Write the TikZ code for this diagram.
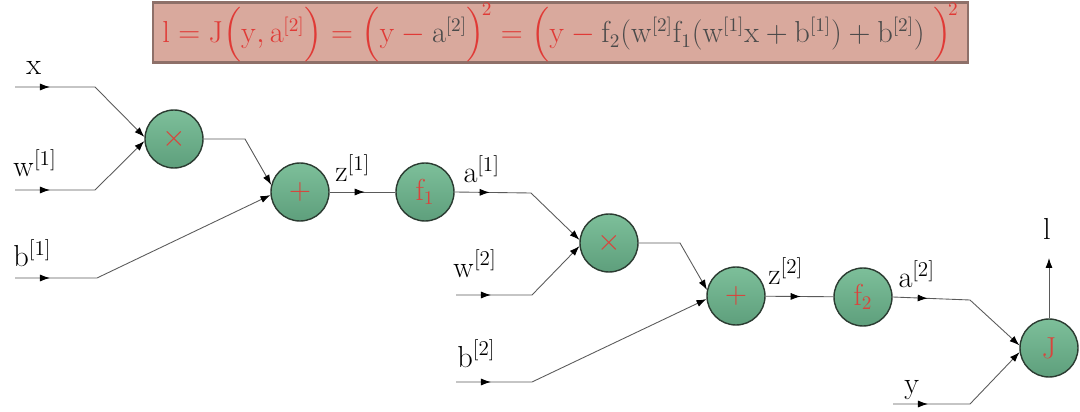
\documentclass[tikz,border=0pt]{standalone}
\usepackage{amsmath}
\usetikzlibrary{arrows.meta,decorations.markings}
\definecolor{eqred}{HTML}{E03A36}
\definecolor{eqgray}{HTML}{4A4A4A}
\definecolor{boxfill}{HTML}{D9A99D}
\definecolor{boxedge}{HTML}{8E7069}
\definecolor{ngreenl}{HTML}{7DBF9A}
\definecolor{ngreend}{HTML}{5E9F7C}
\definecolor{nedge}{HTML}{2B3B31}
\definecolor{opred}{HTML}{D9443C}
\definecolor{wirec}{HTML}{5A5A5A}
\tikzset{
  opnode/.style={circle, minimum size=1.16cm, inner sep=0pt, draw=nedge, line width=0.8pt,
    top color=ngreenl, bottom color=ngreend, text=opred, font=\fontsize{16}{19}\selectfont},
  wire/.style={draw=wirec, line width=0.5pt},
  tip/.style={-{Latex[length=2mm,width=1.4mm,color=black]}},
  midtip/.style={postaction={decorate}, decoration={markings,
    mark=at position 0.7cm with {\arrow{Latex[length=2mm,width=1.4mm,color=black]}}}},
  lab/.style={anchor=base west, inner sep=0pt, font=\fontsize{17}{20}\selectfont},
  eqbox/.style={draw=boxedge, line width=1.5pt, fill=boxfill, minimum width=16.3cm,
    minimum height=1.14cm, inner sep=0pt},
}
\begin{document}
\begin{tikzpicture}[x=0.02cm,y=-0.02cm]
\useasboundingbox (0,0) rectangle (1080,412);
\node[eqbox] (eq) at (560.5,32.5) {\fontsize{16.3}{18}\selectfont$\color{eqred}\mathrm{l}=\mathrm{J}\Bigl(\mathrm{y},\mathrm{a}^{[2]}\Bigr)=\Bigl(\mathrm{y}-{\color{eqgray}\mathrm{a}^{[2]}}\Bigr)^{\!2}=\Bigl(\mathrm{y}-{\color{eqgray}\mathrm{f}_2(\mathrm{w}^{[2]}\mathrm{f}_1(\mathrm{w}^{[1]}\mathrm{x}+\mathrm{b}^{[1]})+\mathrm{b}^{[2]})}\;\Bigr)^{\!2}$};

\node[opnode] (m1) at (174,139) {$\times$};
\node[opnode] (p1) at (300,192) {$+$};
\node[opnode] (f1) at (425,192) {$\mathrm{f}_1$};
\node[opnode] (m2) at (609,243) {$\times$};
\node[opnode] (p2) at (736,296) {$+$};
\node[opnode] (f2) at (863,297) {$\mathrm{f}_2$};
\node[opnode] (J) at (1049,348) {$\mathrm{J}$};

\coordinate (xs) at (15,87);   \coordinate (xb) at (95,87);
\coordinate (w1s) at (15,190); \coordinate (w1b) at (95,190);
\coordinate (b1s) at (15,278); \coordinate (b1b) at (97,278);
\coordinate (m1b) at (245,139);
\coordinate (a1b) at (531,193);
\coordinate (w2s) at (456,295); \coordinate (w2b) at (532,295);
\coordinate (b2s) at (456,382); \coordinate (b2b) at (532,382);
\coordinate (m2b) at (680,243);
\coordinate (a2b) at (970,300);
\coordinate (ys) at (893,404); \coordinate (yb) at (970,404);
\coordinate (lt) at (1049,258);

\draw[wire,midtip,tip] (xs) -- (xb) -- (m1.176);
\draw[wire,midtip,tip] (w1s) -- (w1b) -- (m1.184);
\draw[wire,tip] (m1.east) -- (m1b) -- (p1.166);
\draw[wire,midtip,tip] (b1s) -- (b1b) -- (p1.186);
\draw[wire,midtip] (p1) -- (f1);
\draw[wire,midtip,tip] (f1.east) -- (a1b) -- (m2.174);
\draw[wire,midtip,tip] (w2s) -- (w2b) -- (m2.186);
\draw[wire,tip] (m2.east) -- (m2b) -- (p2.168);
\draw[wire,midtip,tip] (b2s) -- (b2b) -- (p2.186);
\draw[wire,midtip] (p2) -- (f2);
\draw[wire,midtip,tip] (f2.east) -- (a2b) -- (J.175);
\draw[wire,midtip,tip] (ys) -- (yb) -- (J.188);
\draw[wire,tip] (J) -- (lt);

\node[lab] (lx) at (26,75) {$\mathrm{x}$};
\node[lab] (lw1) at (13,177) {$\mathrm{w}^{[1]}$};
\node[lab] (lb1) at (13,267) {$\mathrm{b}^{[1]}$};
\node[lab] (lz1) at (335,182) {$\mathrm{z}^{[1]}$};
\node[lab] (la1) at (463,183) {$\mathrm{a}^{[1]}$};
\node[lab] (lw2) at (453,277) {$\mathrm{w}^{[2]}$};
\node[lab] (lb2) at (457,367) {$\mathrm{b}^{[2]}$};
\node[lab] (lz2) at (768,285) {$\mathrm{z}^{[2]}$};
\node[lab] (la2) at (898,288) {$\mathrm{a}^{[2]}$};
\node[lab] (ly) at (904,394) {$\mathrm{y}$};
\node[lab,anchor=base] (ll) at (1047,240) {$\mathrm{l}$};
\end{tikzpicture}
\end{document}
